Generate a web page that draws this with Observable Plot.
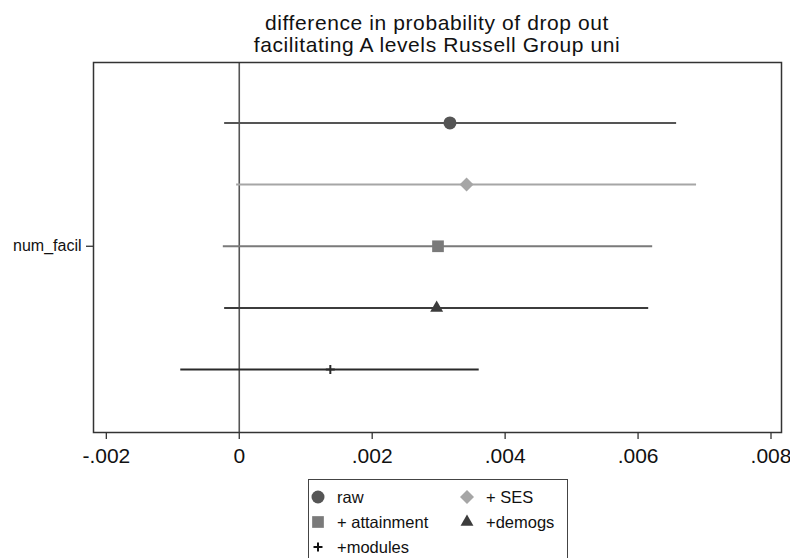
<!DOCTYPE html>
<html>
<head>
<meta charset="utf-8">
<script src="https://cdn.jsdelivr.net/npm/d3@7"></script>
<script src="https://cdn.jsdelivr.net/npm/@observablehq/plot@0.6"></script>
<style>
  body { margin: 0; background: #fff; font-family: "Liberation Sans", Arial, sans-serif; }
  #wrap { position: relative; width: 790px; height: 558px; overflow: hidden; background: #fff; }
  #title { position: absolute; left: 93px; width: 688px; top: 12px; text-align: center; font-size: 21px; line-height: 22px; letter-spacing: 0.6px; color: #111; }
  #legend { position: absolute; left: 308px; top: 479px; width: 260px; height: 100px; border: 1px solid #444; box-sizing: border-box; font-size: 16.5px; color: #111; }
  .item { position: absolute; display: flex; align-items: center; }
  .item svg { margin-right: 9px; }
</style>
</head>
<body>
<div id="wrap">
  <div id="chart"></div>
  <div id="title">difference in probability of drop out<br>facilitating A levels Russell Group uni</div>
  <div id="legend"></div>
</div>
<script>
const series = ["raw", "+ SES", "+ attainment", "+demogs", "+modules"];
const estimates = [0.00317, 0.00342, 0.00299, 0.00297, 0.00137];
const ciLow = [-0.00022, -0.00004, -0.00024, -0.00022, -0.00088];
const ciHigh = [0.00658, 0.00688, 0.00622, 0.00616, 0.00361];
const colors = ["#555555", "#a6a6a6", "#7a7a7a", "#3c3c3c", "#2a2a2a"];
const symbols = ["circle", "diamond2", "square", "triangle", "plus"];
const markerR = [6.5, 6.3, 6.6, 4.8, 3];
const rowLabel = "num_facil";
const xTicks = [-0.002, 0, 0.002, 0.004, 0.006, 0.008];

const data = series.map((name, i) => ({name, row: i + 1, est: estimates[i], lo: ciLow[i], hi: ciHigh[i]}));
const fmt = d => d === 0 ? "0" : d3.format(".3f")(d).replace("0.", ".").replace("\u2212", "-");

const dotMarks = series.map((s, i) => symbols[i] === "plus"
  ? Plot.dot(data.filter(d => d.name === s), {x: "est", y: "row", symbol: "name", stroke: "name", fill: "none", strokeWidth: 2, r: markerR[i]})
  : Plot.dot(data.filter(d => d.name === s), {x: "est", y: "row", symbol: "name", fill: "name", stroke: "none", r: markerR[i]}));

const chart = Plot.plot({
  width: 790,
  height: 480,
  marginTop: 62,
  marginLeft: 93,
  marginRight: 9,
  marginBottom: 48,
  style: {fontFamily: "'Liberation Sans', Arial, sans-serif", background: "white", color: "#111"},
  x: {domain: [-0.002193, 0.008158], label: null},
  y: {domain: [0.02, 6.02], reverse: true, label: null},
  color: {domain: series, range: colors},
  symbol: {domain: series, range: symbols},
  marks: [
    Plot.ruleX([0], {stroke: "#555", strokeWidth: 1.6}),
    Plot.ruleY(data, {y: "row", x1: "lo", x2: "hi", stroke: "name", strokeWidth: 2}),
    ...dotMarks,
    Plot.frame({stroke: "#333", strokeWidth: 1.5}),
    Plot.axisX({ticks: xTicks, tickFormat: fmt, tickSize: 7, tickPadding: 9, fontSize: 21, stroke: "#333", strokeWidth: 1.3}),
    Plot.axisY({ticks: [3], tickFormat: () => rowLabel, tickSize: 7, tickPadding: 5, fontSize: 16, stroke: "#333", strokeWidth: 1.3})
  ]
});
document.getElementById("chart").appendChild(chart);

// legend
const legend = d3.select("#legend");
const pos = [[-1, 17], [148, 17], [-1, 42], [148, 42], [-1, 67]];
series.forEach((s, i) => {
  const it = legend.append("div").attr("class", "item")
    .style("left", (pos[i][0]) + "px").style("top", (pos[i][1] - 10) + "px");
  const svg = it.append("svg").attr("width", 20).attr("height", 20);
  const size = Math.PI * markerR[i] * markerR[i];
  const sym = {circle: d3.symbolCircle, diamond2: d3.symbolDiamond2, square: d3.symbolSquare, triangle: d3.symbolTriangle, plus: d3.symbolPlus}[symbols[i]];
  const p = svg.append("path").attr("transform", "translate(10,10)").attr("d", d3.symbol(sym, size)());
  if (symbols[i] === "plus") p.attr("fill", "none").attr("stroke", "#111").attr("stroke-width", 2);
  else p.attr("fill", colors[i]);
  it.append("span").text(s);
});
</script>
</body>
</html>
